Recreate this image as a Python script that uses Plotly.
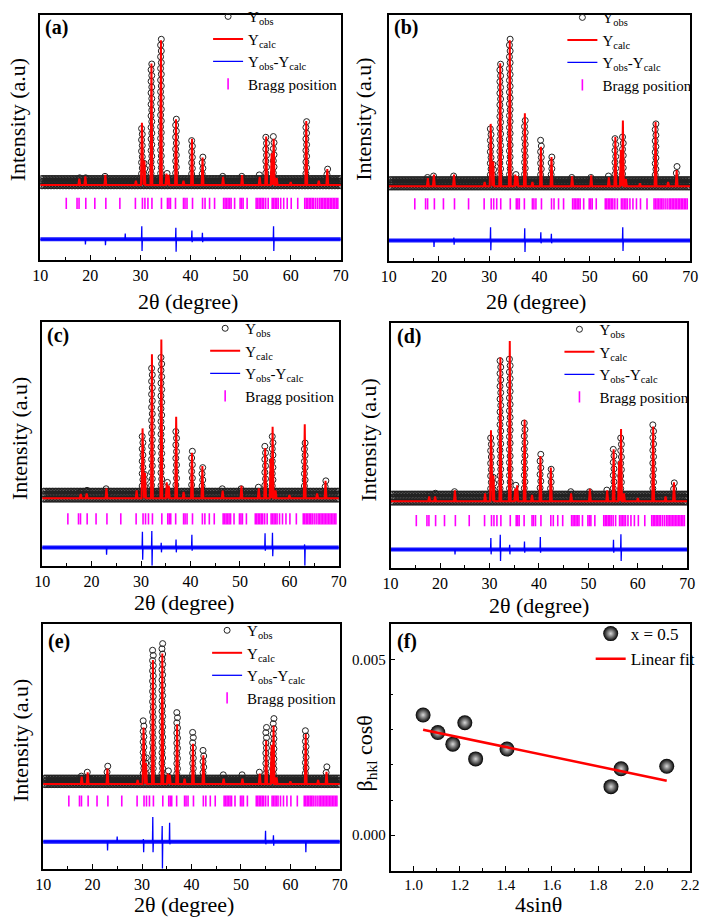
import numpy as np
import plotly.graph_objects as go

SERIF = "Liberation Serif"
W, H = 709, 921

# ---------------- data ----------------
two_theta_range = [10, 70]
two_theta_ticks = [10, 20, 30, 40, 50, 60, 70]

bragg_pos = [15.2, 17.35, 17.75, 19.1, 20.9, 23.1, 25.9, 29.0, 30.4, 30.9, 31.5, 32.3,
             34.2, 35.4, 35.7, 36.0, 37.0, 38.6, 38.9, 39.3, 40.4, 42.4, 42.9, 43.8,
             44.8, 46.6, 46.9, 47.2, 47.5, 47.8, 48.1, 48.8, 49.9, 50.2, 50.5, 51.3,
             53.1, 53.4, 53.7, 54.0, 54.3, 54.6, 55.0, 55.5, 56.3, 56.6, 56.9, 57.2,
             57.5, 58.0, 58.6, 59.3, 60.1, 61.4, 62.8, 63.1, 63.4, 63.7, 64.0, 64.3,
             64.6, 65.0, 65.4, 65.8, 66.1, 66.4, 66.7, 67.0, 67.3, 67.6, 67.9, 68.2,
             68.5, 68.8, 69.1, 69.4]

calc_pos = [17.8, 19.0, 23.0, 29.1, 30.3, 30.8, 32.2, 34.1, 35.2, 35.6, 37.1, 38.6, 40.3,
            42.4, 46.5, 50.3, 53.8, 55.1, 56.2, 56.6, 57.2, 60.0, 63.1, 65.6, 67.3]
calc_a = [0.045, 0.06, 0.07, 0.03, 0.43, 0.17, 0.84, 1.0, 0.08, 0.07, 0.455, 0.03, 0.32,
          0.19, 0.057, 0.068, 0.057, 0.336, 0.22, 0.32, 0.05, 0.02, 0.443, 0.03, 0.11]
calc_b = [0.056, 0.08, 0.08, 0.03, 0.427, 0.17, 0.843, 1.0, 0.08, 0.07, 0.5, 0.03, 0.27,
          0.2, 0.067, 0.074, 0.06, 0.337, 0.25, 0.45, 0.05, 0.02, 0.44, 0.03, 0.11]
calc_c = [0.027, 0.03, 0.062, 0.05, 0.44, 0.16, 0.907, 1.0, 0.1, 0.08, 0.513, 0.04, 0.286,
          0.203, 0.048, 0.079, 0.062, 0.317, 0.25, 0.451, 0.05, 0.02, 0.466, 0.03, 0.11]
calc_d = [0.03, 0.03, 0.068, 0.05, 0.443, 0.16, 0.898, 1.0, 0.08, 0.1, 0.508, 0.04, 0.283,
          0.211, 0.05, 0.078, 0.068, 0.324, 0.25, 0.451, 0.05, 0.02, 0.467, 0.03, 0.119]
calc_e = [0.055, 0.088, 0.118, 0.03, 0.433, 0.16, 0.95, 1.0, 0.08, 0.07, 0.458, 0.04, 0.307,
          0.219, 0.04, 0.04, 0.08, 0.332, 0.3, 0.446, 0.05, 0.02, 0.383, 0.03, 0.093]

obs_pos = [17.8, 19.0, 23.0, 30.3, 30.8, 32.2, 34.1, 35.4, 37.1, 40.3, 42.4, 46.5, 50.3,
           53.8, 55.1, 56.6, 63.1, 67.3]
obs_a = [0.05, 0.05, 0.06, 0.39, 0.15, 0.836, 1.007, 0.08, 0.455, 0.307, 0.193, 0.06, 0.06,
         0.07, 0.33, 0.335, 0.438, 0.11]
obs_b = [0.06, 0.07, 0.07, 0.393, 0.15, 0.836, 1.007, 0.08, 0.45, 0.315, 0.2, 0.06, 0.06,
         0.07, 0.326, 0.337, 0.427, 0.135]
obs_c = [0.04, 0.05, 0.06, 0.389, 0.15, 0.818, 0.886, 0.1, 0.42, 0.296, 0.193, 0.06, 0.06,
         0.07, 0.327, 0.389, 0.348, 0.11]
obs_d = [0.04, 0.05, 0.06, 0.395, 0.15, 0.877, 0.887, 0.1, 0.488, 0.293, 0.2, 0.06, 0.06,
         0.07, 0.324, 0.395, 0.477, 0.115]
obs_e = [0.06, 0.09, 0.136, 0.484, 0.2, 1.025, 1.076, 0.1, 0.547, 0.395, 0.257, 0.07, 0.07,
         0.09, 0.433, 0.501, 0.408, 0.131]

diff_pos_a = [19.0, 23.0, 27.0, 30.3, 37.1, 40.3, 42.4, 56.6]
diff_up_a = [0.0, 0.0, 0.04, 0.09, 0.08, 0.06, 0.045, 0.09]
diff_dn_a = [0.035, 0.04, 0.0, 0.08, 0.086, 0.02, 0.02, 0.08]

diff_pos_b = [19.0, 23.0, 30.3, 37.1, 40.3, 42.4, 56.6]
diff_up_b = [0.0, 0.02, 0.09, 0.083, 0.056, 0.045, 0.09]
diff_dn_b = [0.045, 0.03, 0.067, 0.079, 0.02, 0.02, 0.072]

diff_pos_c = [23.0, 30.3, 32.2, 34.1, 37.1, 40.3, 55.1, 56.6, 63.1]
diff_up_c = [0.0, 0.1, 0.104, 0.03, 0.05, 0.08, 0.09, 0.093, 0.02]
diff_dn_c = [0.045, 0.077, 0.115, 0.03, 0.03, 0.02, 0.02, 0.055, 0.115]

diff_pos_d = [23.0, 30.3, 32.2, 34.1, 37.1, 40.3, 55.1, 56.6]
diff_up_d = [0.0, 0.072, 0.092, 0.03, 0.05, 0.078, 0.061, 0.096]
diff_dn_d = [0.03, 0.03, 0.072, 0.03, 0.02, 0.02, 0.02, 0.072]

diff_pos_e = [23.0, 25.0, 30.3, 32.2, 34.1, 35.6, 55.0, 56.6, 63.1]
diff_up_e = [0.0, 0.04, 0.02, 0.19, 0.12, 0.146, 0.083, 0.05, 0.0]
diff_dn_e = [0.068, 0.0, 0.08, 0.08, 0.207, 0.02, 0.02, 0.03, 0.08]

# panel (f): Williamson-Hall
wh_x = [1.041, 1.105, 1.17, 1.222, 1.269, 1.405, 1.856, 1.90, 2.098]
wh_y = [0.00342, 0.00292, 0.00259, 0.0032, 0.00217, 0.00245, 0.00138, 0.00189, 0.00196]
fit_x = [1.041, 2.098]
fit_y = [0.0030, 0.00155]

# ---------------- layout geometry (pixels) ----------------
panels = [
    dict(key="a", box=(33, 341, 3, 251), yr=(-0.516, 1.175), bragg=-0.127, diff=-0.375,
         calc=calc_a, obs=obs_a, dpos=diff_pos_a, dup=diff_up_a, ddn=diff_dn_a,
         leg=(205, -12), lab=(36, 16), ytit=(10, 109), xtit=(184, 293)),
    dict(key="b", box=(390, 699, 3, 252), yr=(-0.51, 1.173), bragg=-0.121, diff=-0.371,
         calc=calc_b, obs=obs_b, dpos=diff_pos_b, dup=diff_up_b, ddn=diff_dn_b,
         leg=(568, -11), lab=(393, 16), ytit=(364, 109), xtit=(541, 293)),
    dict(key="c", box=(35, 339, 314, 561), yr=(-0.424, 1.11), bragg=-0.13, diff=-0.31,
         calc=calc_c, obs=obs_c, dpos=diff_pos_c, dup=diff_up_c, ddn=diff_dn_c,
         leg=(202, 304), lab=(38, 328), ytit=(12, 432), xtit=(180, 598)),
    dict(key="d", box=(392, 696, 315, 563), yr=(-0.414, 1.113), bragg=-0.121, diff=-0.301,
         calc=calc_d, obs=obs_d, dpos=diff_pos_d, dup=diff_up_d, ddn=diff_dn_d,
         leg=(565, 305), lab=(397, 329), ytit=(369, 434), xtit=(544, 601)),
    dict(key="e", box=(36, 340, 620, 868), yr=(-0.65, 1.227), bragg=-0.131, diff=-0.443,
         calc=calc_e, obs=obs_e, dpos=diff_pos_e, dup=diff_up_e, ddn=diff_dn_e,
         leg=(204, 610), lab=(39, 638), ytit=(13, 738), xtit=(180, 904)),
]
f_box = (392, 699, 620, 870)


def px_x(v):
    return v / W


def px_y(v):
    return 1 - v / H


def triangle_profile(pos, hts, hw):
    xs, ys = [two_theta_range[0]], [0.0]
    for p, v in sorted(zip(pos, hts)):
        xs += [p - hw, p, p + hw]
        ys += [0.0, v, 0.0]
    xs.append(two_theta_range[1])
    ys.append(0.0)
    return xs, ys


def stacked_obs(pos, hts, step):
    xs, ys = [], []
    for p, v in zip(pos, hts):
        n = max(1, int(round(v / step)))
        for k in range(1, n + 1):
            xs.append(p + (0.07 if k % 2 else -0.07))
            ys.append(v * k / n)
    return xs, ys


def spike_profile(pos, up, dn, base):
    xs, ys = [two_theta_range[0]], [base]
    for p, u, d in sorted(zip(pos, up, dn)):
        xs += [p - 0.09, p - 0.025, p + 0.025, p + 0.09]
        ys += [base, base + u, base - d, base]
    xs.append(two_theta_range[1])
    ys.append(base)
    return xs, ys


fig = go.Figure()
layout = dict(width=W, height=H, margin=dict(l=0, r=0, t=0, b=0),
              paper_bgcolor="white", plot_bgcolor="white",
              font=dict(family=SERIF, color="black"), showlegend=True)
annotations = []

axis_line = dict(showline=True, linecolor="black", linewidth=1.5, mirror=True,
                 showgrid=False, zeroline=False)
obs_marker = dict(symbol="circle-open", size=6, color="#222", line=dict(width=1))

for i, p in enumerate(panels):
    n = i + 1
    xa = "x" if n == 1 else f"x{n}"
    ya = "y" if n == 1 else f"y{n}"
    lg = "legend" if n == 1 else f"legend{n}"
    L, R, T, B = p["box"]
    layout["xaxis" if n == 1 else f"xaxis{n}"] = dict(
        domain=[px_x(L), px_x(R)], anchor=ya, range=two_theta_range,
        tickvals=two_theta_ticks, ticks="inside", ticklen=5, tickwidth=1.3,
        tickcolor="black", tickfont=dict(family=SERIF, size=16),
        minor=dict(dtick=5, tick0=10, ticks="inside", ticklen=3, tickcolor="black"),
        **axis_line)
    layout["yaxis" if n == 1 else f"yaxis{n}"] = dict(
        domain=[px_y(B), px_y(T)], anchor=xa, range=list(p["yr"]),
        showticklabels=False, ticks="", **axis_line)

    # baseline band of observed points
    bx = np.arange(10.2, 69.9, 0.3)
    for off, lev in ((0.0, -0.005), (0.15, 0.025), (0.08, 0.045)):
        fig.add_trace(go.Scatter(x=bx + off, y=np.full_like(bx, lev), mode="markers",
                                 xaxis=xa, yaxis=ya, marker=obs_marker,
                                 showlegend=False, legend=lg, hoverinfo="skip"))
    ox, oy = stacked_obs(obs_pos, p["obs"], 0.04)
    fig.add_trace(go.Scatter(x=ox, y=oy, mode="markers", xaxis=xa, yaxis=ya,
                             name="Y<sub>obs</sub>", legend=lg, marker=obs_marker))
    cx, cy = triangle_profile(calc_pos, p["calc"], 0.19)
    fig.add_trace(go.Scatter(x=cx, y=cy, mode="lines", xaxis=xa, yaxis=ya,
                             name="Y<sub>calc</sub>", legend=lg,
                             line=dict(color="#ff0000", width=2)))
    # difference curve
    fig.add_trace(go.Scatter(x=two_theta_range, y=[p["diff"]] * 2, mode="lines",
                             xaxis=xa, yaxis=ya, showlegend=False, legend=lg,
                             line=dict(color="#1414ff", width=4), hoverinfo="skip"))
    dx, dy = spike_profile(p["dpos"], p["dup"], p["ddn"], p["diff"])
    fig.add_trace(go.Scatter(x=dx, y=dy, mode="lines", xaxis=xa, yaxis=ya,
                             name="Y<sub>obs</sub>-Y<sub>calc</sub>", legend=lg,
                             line=dict(color="#0000ff", width=1.3)))
    fig.add_trace(go.Scatter(x=bragg_pos, y=[p["bragg"]] * len(bragg_pos), mode="markers",
                             xaxis=xa, yaxis=ya, name="Bragg position", legend=lg,
                             marker=dict(symbol="line-ns", size=8, color="#ff00ff",
                                         line=dict(width=1.6, color="#ff00ff"))))

    lx, ly = p["leg"]
    layout[lg] = dict(x=px_x(lx), y=px_y(ly), xanchor="left", yanchor="top",
                      bgcolor="rgba(0,0,0,0)", font=dict(family=SERIF, size=15),
                      tracegroupgap=0, itemwidth=30)

    annotations.append(dict(text=f"<b>({p['key']})</b>", x=px_x(p["lab"][0]),
                            y=px_y(p["lab"][1]), xref="paper", yref="paper",
                            xanchor="left", yanchor="middle", showarrow=False,
                            font=dict(family=SERIF, size=20)))
    annotations.append(dict(text="Intensity (a.u)", x=px_x(p["ytit"][0]),
                            y=px_y(p["ytit"][1]), xref="paper", yref="paper",
                            xanchor="center", yanchor="middle", textangle=-90,
                            showarrow=False, font=dict(family=SERIF, size=22)))
    annotations.append(dict(text="2θ (degree)", x=px_x(p["xtit"][0]),
                            y=px_y(p["xtit"][1]), xref="paper", yref="paper",
                            xanchor="center", yanchor="middle", showarrow=False,
                            font=dict(family=SERIF, size=22)))

# ---------------- panel (f) ----------------
L, R, T, B = f_box
layout["xaxis6"] = dict(domain=[px_x(L), px_x(R)], anchor="y6", range=[0.9, 2.2],
                        dtick=0.2, tick0=1.0, tickformat=".1f", ticks="inside", ticklen=5,
                        tickwidth=1.3, tickcolor="black",
                        tickfont=dict(family=SERIF, size=15),
                        minor=dict(dtick=0.1, tick0=1.0, ticks="inside", ticklen=3,
                                   tickcolor="black"),
                        **axis_line)
layout["yaxis6"] = dict(domain=[px_y(B), px_y(T)], anchor="x6", range=[-0.00101, 0.00601],
                        tickvals=[0.0, 0.005], tickformat=".3f", ticks="inside", ticklen=5,
                        tickwidth=1.3, tickcolor="black",
                        tickfont=dict(family=SERIF, size=15),
                        minor=dict(dtick=0.001, tick0=0, ticks="inside", ticklen=3,
                                   tickcolor="black"),
                        **axis_line)
fig.add_trace(go.Scatter(x=wh_x, y=wh_y, mode="markers", xaxis="x6", yaxis="y6",
                         name="x = 0.5", legend="legend6",
                         marker=dict(size=15, color="#000000",
                                     gradient=dict(type="radial", color="#d8d8d8"),
                                     line=dict(width=0))))
fig.add_trace(go.Scatter(x=fit_x, y=fit_y, mode="lines", xaxis="x6", yaxis="y6",
                         name="Linear fit", legend="legend6",
                         line=dict(color="#ff0000", width=2.5)))
layout["legend6"] = dict(x=px_x(597), y=px_y(612), xanchor="left", yanchor="top",
                         bgcolor="rgba(0,0,0,0)", font=dict(family=SERIF, size=17),
                         tracegroupgap=0, itemwidth=30)
annotations.append(dict(text="<b>(f)</b>", x=px_x(397), y=px_y(638), xref="paper",
                        yref="paper", xanchor="left", yanchor="middle", showarrow=False,
                        font=dict(family=SERIF, size=20)))
annotations.append(dict(text="β<sub>hkl</sub> cosθ", x=px_x(367), y=px_y(751),
                        xref="paper", yref="paper", xanchor="center", yanchor="middle",
                        textangle=-90, showarrow=False, font=dict(family=SERIF, size=22)))
annotations.append(dict(text="4sinθ", x=px_x(544), y=px_y(904), xref="paper",
                        yref="paper", xanchor="center", yanchor="middle", showarrow=False,
                        font=dict(family=SERIF, size=22)))

layout["annotations"] = annotations
fig.update_layout(**layout)
fig.write_html("out.html", config={"displayModeBar": False},
               post_script="document.body.style.margin='0px';"
                           "document.body.style.overflow='hidden';")
